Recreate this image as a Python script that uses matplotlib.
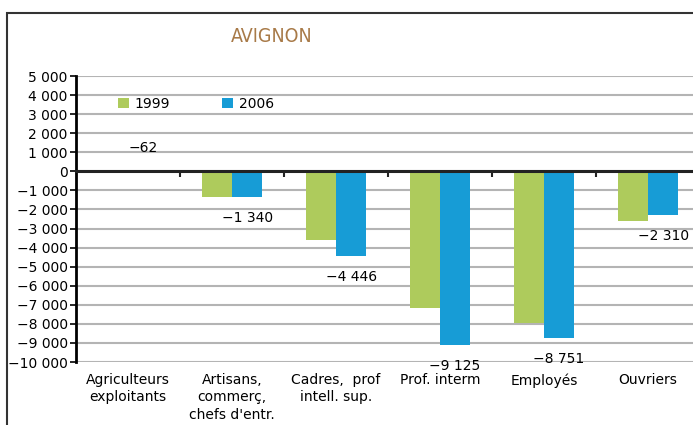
import matplotlib.pyplot as plt
import matplotlib.patches as mpatches
import numpy as np

# Data
categories = [
    "Agriculteurs\nexploitants",
    "Artisans,\ncommerç,\nchefs d'entr.",
    "Cadres,  prof\nintell. sup.",
    "Prof. interm",
    "Employés",
    "Ouvriers",
]
values_1999 = [-20, -1350, -3580, -7170, -7960, -2630]
values_2006 = [-62, -1340, -4446, -9125, -8751, -2310]
series_labels = ["1999", "2006"]
y_ticks = list(range(5000, -10001, -1000))

green = "#aecb5c"
blue = "#179cd6"
title_color = "#a87a48"


def fmt(v):
    return f"{v:,}".replace(",", " ").replace("-", "\u2212")


W, H = 693, 425
fig = plt.figure(figsize=(W / 100, H / 100), dpi=100)
plt.rcParams["font.family"] = "DejaVu Sans"

# outer frame (cut on the right and bottom like the reference)
frame = mpatches.Rectangle(
    (7 / W, -0.1), 2, 1 - 13 / H + 0.1, transform=fig.transFigure,
    fill=False, edgecolor="#333333", linewidth=1.5, zorder=0
)
fig.patches.append(frame)

fig.text(272 / W, 1 - 36 / H, "AVIGNON", ha="center", va="center",
         fontsize=14, color=title_color, fontstretch="condensed")

left, right = 76 / W, 700 / W
bottom, top = 1 - 362 / H, 1 - 76 / H
ax = fig.add_axes([left, bottom, right - left, top - bottom])

x = np.arange(len(categories))
bw = 0.29
ax.bar(x - bw / 2, values_1999, bw, color=green, label=series_labels[0], zorder=3)
bars2 = ax.bar(x + bw / 2, values_2006, bw, color=blue, label=series_labels[1], zorder=3)

ax.set_xlim(-0.5, len(categories) - 0.5)
ax.set_ylim(-10000, 5000)
ax.set_yticks(y_ticks)
ax.set_yticklabels([fmt(v) for v in y_ticks], fontsize=10)
ax.yaxis.grid(True, color="#b4b4b4", linewidth=1.5, zorder=0)
ax.set_axisbelow(True)
ax.tick_params(axis="y", length=4, width=1.2, pad=2, color="black")

for s in ["top", "right"]:
    ax.spines[s].set_visible(False)
ax.spines["left"].set_linewidth(2)
ax.spines["bottom"].set_position(("data", 0))
ax.spines["bottom"].set_linewidth(2.2)
ax.spines["bottom"].set_color("#222222")
ax.spines["bottom"].set_zorder(4)
ax.set_xticks(x[:-1] + 0.5)
ax.set_xticklabels([])
ax.tick_params(axis="x", length=4, width=1.5, direction="out", color="#222222")

# category labels under the plot
for xi, lab in zip(x, categories):
    ax.annotate(lab, (xi, 0), xycoords=("data", "axes fraction"),
                xytext=(0, -8), textcoords="offset points",
                ha="center", va="top", fontsize=10, linespacing=1.3)

# value labels for 2006
for xi, v, b in zip(x, values_2006, bars2):
    if v > -500:
        ax.annotate(fmt(v), (xi + bw / 2, 0), xytext=(0, 17),
                    textcoords="offset points", ha="center", va="center", fontsize=10)
    else:
        ax.annotate(fmt(v), (xi + bw / 2, v), xytext=(0, -15),
                    textcoords="offset points", ha="center", va="center", fontsize=10)

ax.legend(loc="center left", bbox_to_anchor=(105 / W, 1 - 104 / H),
          bbox_transform=fig.transFigure, ncol=2, frameon=False, fontsize=10,
          handlelength=0.8, handleheight=0.8, handletextpad=0.45, columnspacing=3.7)

fig.savefig("out.png", dpi=100)
